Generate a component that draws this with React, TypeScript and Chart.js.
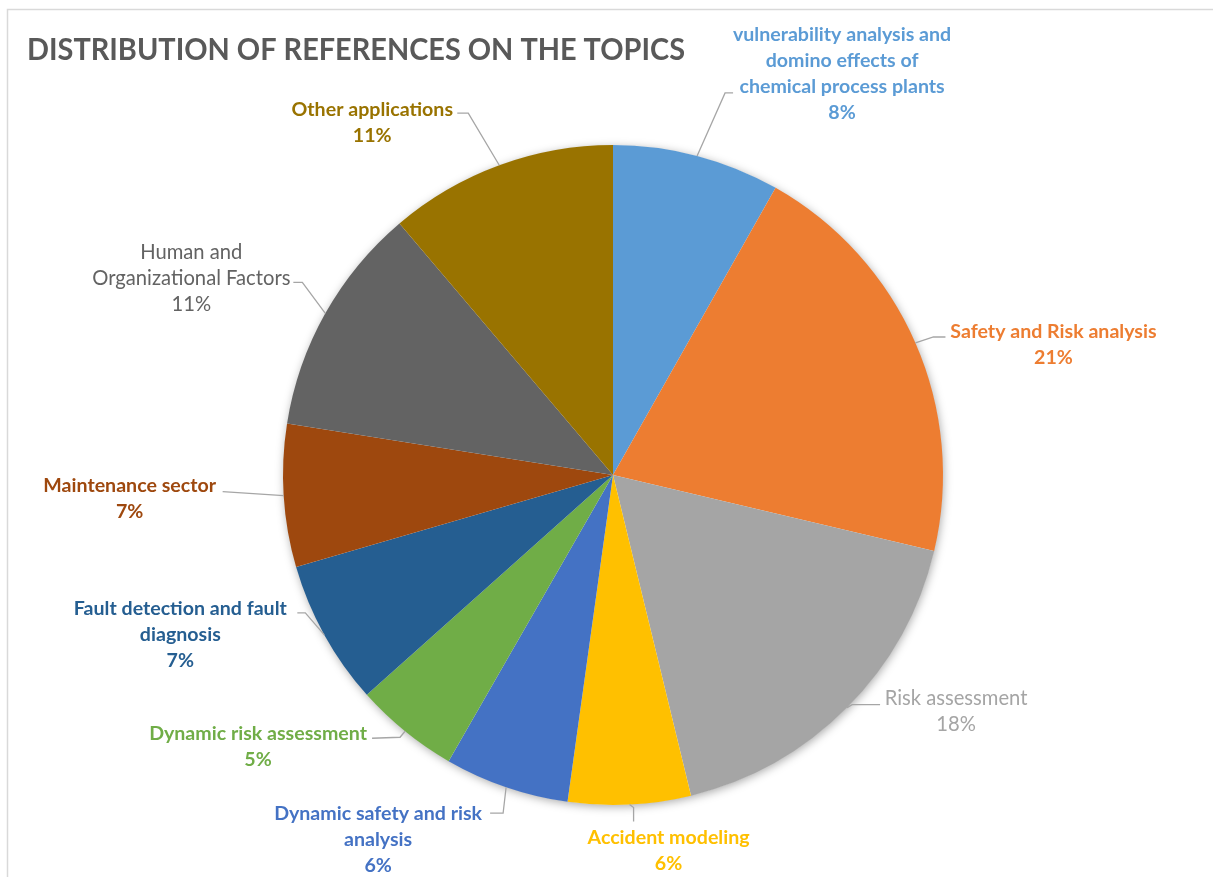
import React, { useEffect, useRef } from "react";
import { Chart, registerables } from "chart.js";

Chart.register(...registerables);

const chartTitle = "DISTRIBUTION OF REFERENCES ON THE TOPICS";

// Category names, split into the display lines used by the labels
const categories: string[][] = [
  ["vulnerability analysis and", "domino effects of", "chemical process plants"],
  ["Safety and Risk analysis"],
  ["Risk assessment"],
  ["Accident modeling"],
  ["Dynamic safety and risk", "analysis"],
  ["Dynamic risk assessment"],
  ["Fault detection and fault", "diagnosis"],
  ["Maintenance sector"],
  ["Human and", "Organizational Factors"],
  ["Other applications"],
];

// Share of references (%)
const shares = [8.2, 20.5, 17.5, 6.0, 6.1, 5.1, 7.1, 7.0, 11.3, 11.2];

const sliceColors = [
  "#5B9BD5",
  "#ED7D31",
  "#A5A5A5",
  "#FFC000",
  "#4472C4",
  "#70AD47",
  "#255E91",
  "#9E480E",
  "#636363",
  "#997300",
];

const labelBold = [true, true, false, true, true, true, true, true, false, true];

// Label layout: offsets (px) from the slice's outer mid-point
type LabelLayout = { knee: number[] | null; end: number[]; text: number[] };
const labelLayout: LabelLayout[] = [
  { knee: [28, -63], end: [36, -63], text: [145, -121] },
  { knee: [18, -6], end: [30, -6], text: [138, -11] },
  { knee: [5, -3], end: [33, -3], text: [109, -9] },
  { knee: [4, 3], end: [4, 17], text: [39, 33] },
  { knee: [-3, 26], end: [-16, 26], text: [-128, 26] },
  { knee: [-5, 6], end: [-33, 7], text: [-147, 2] },
  { knee: [-19, -22], end: [-27, -22], text: [-144, -26] },
  { knee: null, end: [-61, -4], text: [-154, -10] },
  { knee: [-23, -31], end: [-32, -31], text: [-134, -61] },
  { knee: [-31, -52], end: [-42, -52], text: [-127, -56] },
];

const FONT = "Lato, 'Open Sans', 'Liberation Sans', sans-serif";
const LINE_H = 26;

const framePlugin = {
  id: "frameAndTitle",
  beforeDraw(chart: any) {
    const ctx = chart.ctx as CanvasRenderingContext2D;
    ctx.save();
    ctx.fillStyle = "#ffffff";
    ctx.fillRect(0, 0, chart.width, chart.height);
    ctx.strokeStyle = "#D9D9D9";
    ctx.lineWidth = 1.5;
    ctx.beginPath();
    ctx.moveTo(7.5, chart.height);
    ctx.lineTo(7.5, 9.5);
    ctx.lineTo(chart.width, 9.5);
    ctx.stroke();
    ctx.fillStyle = "#595959";
    ctx.font = `bold 30px ${FONT}`;
    ctx.textBaseline = "middle";
    ctx.textAlign = "left";
    ctx.fillText(chartTitle, 27, 50, 658);
    ctx.restore();
  },
  beforeDatasetsDraw(chart: any) {
    const meta = chart.getDatasetMeta(0);
    const arc = meta.data[0];
    if (!arc) return;
    const { x, y, outerRadius } = arc.getProps(["x", "y", "outerRadius"], true);
    const ctx = chart.ctx as CanvasRenderingContext2D;
    ctx.save();
    ctx.shadowColor = "rgba(0,0,0,0.35)";
    ctx.shadowBlur = 10;
    ctx.shadowOffsetX = 1;
    ctx.shadowOffsetY = 2;
    ctx.fillStyle = "#ffffff";
    ctx.beginPath();
    ctx.arc(x, y, outerRadius - 0.5, 0, Math.PI * 2);
    ctx.fill();
    ctx.restore();
  },
  afterDatasetsDraw(chart: any) {
    const meta = chart.getDatasetMeta(0);
    const ctx = chart.ctx as CanvasRenderingContext2D;
    const data = chart.data.datasets[0].data as number[];
    const total = data.reduce((a, b) => a + b, 0);
    meta.data.forEach((el: any, i: number) => {
      const { x, y, startAngle, endAngle, outerRadius } = el.getProps(
        ["x", "y", "startAngle", "endAngle", "outerRadius"],
        true
      );
      const mid = (startAngle + endAngle) / 2;
      const ex = x + outerRadius * Math.cos(mid);
      const ey = y + outerRadius * Math.sin(mid);
      const lay = labelLayout[i];
      ctx.save();
      ctx.strokeStyle = "#A6A6A6";
      ctx.lineWidth = 1.3;
      ctx.beginPath();
      ctx.moveTo(ex, ey);
      if (lay.knee) ctx.lineTo(ex + lay.knee[0], ey + lay.knee[1]);
      ctx.lineTo(ex + lay.end[0], ey + lay.end[1]);
      ctx.stroke();

      const lines = [...categories[i], `${Math.round((data[i] / total) * 100)}%`];
      ctx.fillStyle = sliceColors[i];
      ctx.font = labelBold[i] ? `bold 19.6px ${FONT}` : `20.2px ${FONT}`;
      ctx.textAlign = "center";
      ctx.textBaseline = "middle";
      const tx = ex + lay.text[0];
      const ty = ey + lay.text[1];
      lines.forEach((ln, k) => ctx.fillText(ln, tx, ty + k * LINE_H));
      ctx.restore();
    });
  },
};

export default function App() {
  const canvasRef = useRef<HTMLCanvasElement | null>(null);

  useEffect(() => {
    if (!canvasRef.current) return;
    const chart = new Chart(canvasRef.current, {
      type: "pie",
      data: {
        labels: categories.map((c) => c.join(" ")),
        datasets: [
          {
            data: shares,
            backgroundColor: sliceColors,
            borderWidth: 0,
            hoverOffset: 0,
            offset: 0,
          },
        ],
      },
      options: {
        responsive: false,
        animation: false,
        devicePixelRatio: 1,
        layout: { padding: { left: 283, right: 270, top: 145, bottom: 72 } },
        plugins: {
          legend: { display: false },
          title: { display: false },
          tooltip: { enabled: false },
        },
      },
      plugins: [framePlugin],
    });
    return () => chart.destroy();
  }, []);

  return (
    <div style={{ position: "absolute", left: 0, top: 0, width: 1213, height: 877 }}>
      <canvas ref={canvasRef} width={1213} height={877} style={{ display: "block" }} />
    </div>
  );
}
